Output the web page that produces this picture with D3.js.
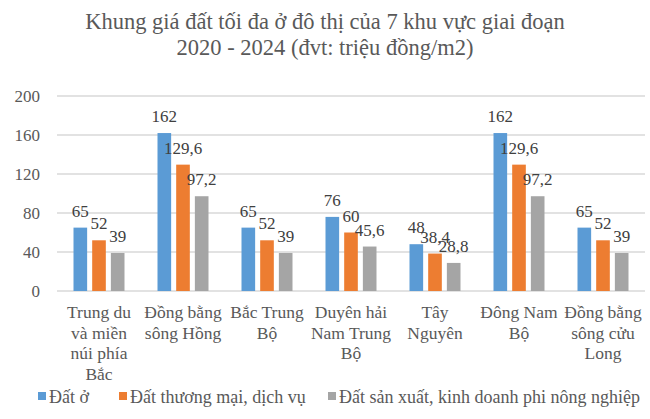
<!DOCTYPE html>
<html>
<head>
<meta charset="utf-8">
<script src="https://cdn.jsdelivr.net/npm/d3@7"></script>
<style>
  body { margin: 0; background: #fff; }
  svg text { font-family: "Liberation Serif", "DejaVu Serif", serif; }
</style>
</head>
<body>
<div id="chart"></div>
<script>
const categories = [
  "Trung du\nvà miền\nnúi phía\nBắc",
  "Đồng bằng\nsông Hồng",
  "Bắc Trung\nBộ",
  "Duyên hải\nNam Trung\nBộ",
  "Tây\nNguyên",
  "Đông Nam\nBộ",
  "Đồng bằng\nsông cửu\nLong"
];
const seriesNames = ["Đất ở", "Đất thương mại, dịch vụ", "Đất sản xuất, kinh doanh phi nông nghiệp"];
const datO = [65, 162, 65, 76, 48, 162, 65];
const datTMDV = [52, 129.6, 52, 60, 38.4, 129.6, 52];
const datSXKD = [39, 97.2, 39, 45.6, 28.8, 97.2, 39];
const yTicks = [0, 40, 80, 120, 160, 200];
const colors = ["#5B9BD5", "#ED7D31", "#A5A5A5"];

const W = 650, H = 419;
const margin = { top: 96, right: 5, bottom: 128, left: 57 };
const width = W - margin.left - margin.right;
const height = H - margin.top - margin.bottom;
const SERIF = '"Liberation Serif", "DejaVu Serif", serif';

const svg = d3.select('#chart').append('svg')
  .attr('width', W).attr('height', H);

svg.append('text')
  .attr('x', W / 2).attr('y', 29)
  .attr('text-anchor', 'middle')
  .attr('font-family', SERIF)
  .style('font-size', '22.5px').style('fill', '#595959')
  .selectAll('tspan')
  .data(["Khung giá đất tối đa ở đô thị của 7 khu vực giai đoạn", "2020 - 2024 (đvt: triệu đồng/m2)"])
  .join('tspan')
  .attr('x', W / 2)
  .attr('dy', (d, i) => i ? 26 : 0)
  .text(d => d);

const g = svg.append('g').attr('transform', `translate(${margin.left},${margin.top})`);

const x0 = d3.scaleBand().domain(d3.range(categories.length)).range([0, width]);
const x1 = d3.scaleBand().domain([0, 1, 2]).range([16.5, x0.bandwidth() - 16.5]).paddingInner(0.27);
const y = d3.scaleLinear().domain([0, 200]).range([height, 0]);

// gridlines
g.selectAll('.grid')
  .data(yTicks)
  .join('line')
  .attr('x1', 0).attr('x2', width)
  .attr('y1', d => y(d)).attr('y2', d => y(d))
  .attr('stroke', '#d9d9d9').attr('stroke-width', 1.3);

g.selectAll('.ytick')
  .data(yTicks)
  .join('text')
  .attr('x', -17).attr('y', d => y(d))
  .attr('dy', '0.35em')
  .attr('text-anchor', 'end')
  .attr('font-family', SERIF)
  .style('font-size', '17px').style('fill', '#595959')
  .text(d => d);

const series = [datO, datTMDV, datSXKD];
const fmt = v => String(v).replace('.', ',');

series.forEach((vals, s) => {
  const sg = g.append('g');
  sg.selectAll('rect')
    .data(vals)
    .join('rect')
    .attr('x', (d, i) => x0(i) + x1(s))
    .attr('y', d => y(d))
    .attr('width', x1.bandwidth())
    .attr('height', d => height - y(d))
    .attr('fill', colors[s]);
  sg.selectAll('text')
    .data(vals)
    .join('text')
    .attr('x', (d, i) => x0(i) + x1(s) + x1.bandwidth() / 2)
    .attr('y', d => y(d) - 11)
    .attr('text-anchor', 'middle')
    .attr('font-family', SERIF)
    .style('font-size', '17px').style('fill', '#404040')
    .text(d => fmt(d));
});

// category labels
g.selectAll('.xlab')
  .data(categories)
  .join('text')
  .attr('y', height + 27)
  .attr('text-anchor', 'middle')
  .attr('font-family', SERIF)
  .style('font-size', '17.5px').style('fill', '#595959')
  .each(function (d, i) {
    d3.select(this).selectAll('tspan')
      .data(d.split('\n'))
      .join('tspan')
      .attr('x', x0(i) + x0.bandwidth() / 2)
      .attr('dy', (t, j) => j ? 20.5 : 0)
      .text(t => t);
  });

// legend
const legendX = [38, 119, 328];
const legend = svg.append('g').attr('transform', `translate(0,398)`);
seriesNames.forEach((name, s) => {
  legend.append('rect')
    .attr('x', legendX[s]).attr('y', -6)
    .attr('width', 8).attr('height', 8)
    .attr('fill', colors[s]);
  legend.append('text')
    .attr('x', legendX[s] + 11).attr('y', 0)
    .attr('dy', '0.3em')
    .attr('font-family', SERIF)
    .style('font-size', '18px').style('fill', '#595959')
    .text(name);
});
</script>
</body>
</html>
